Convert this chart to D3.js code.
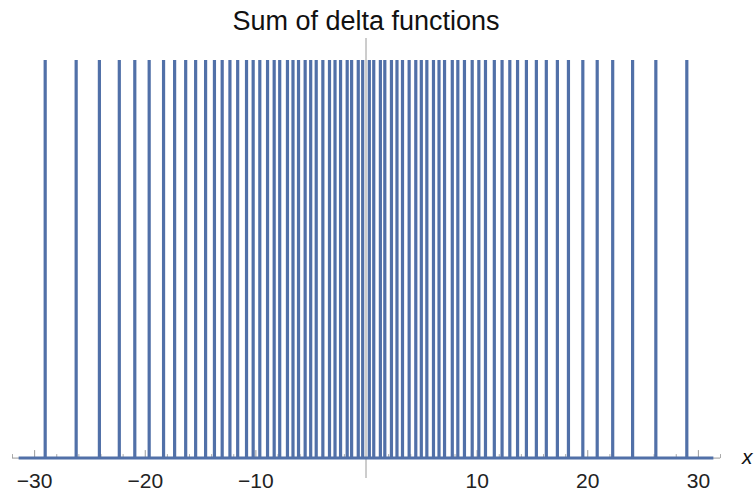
<!DOCTYPE html>
<html>
<head>
<meta charset="utf-8">
<script src="https://cdn.jsdelivr.net/npm/d3@7"></script>
<style>
  body { margin: 0; background: #fff; }
  text { font-family: "Liberation Sans", Arial, sans-serif; }
</style>
</head>
<body>
<svg id="chart"></svg>
<script>
// spike positions (left half, mirrored on the right)
const leftSpikes = [-29.0, -26.2, -24.1, -22.3, -20.9, -19.6, -18.3, -17.3, -16.3,
  -15.4, -14.5, -13.7, -13.0, -12.3, -11.6, -10.8, -10.2, -9.6, -8.9, -8.3,
  -7.8, -7.1, -6.6, -6.1, -5.5, -5.0, -4.5, -3.9, -3.3, -2.8, -2.3, -1.7,
  -1.3, -0.7, -0.3];
const rightSpikes = [0.3, 0.7, 1.3, 1.7, 2.3, 2.8, 3.3, 3.9, 4.5, 5.0, 5.5,
  6.1, 6.6, 7.1, 7.8, 8.3, 8.9, 9.6, 10.2, 10.8, 11.6, 12.3, 13.0, 13.7,
  14.5, 15.4, 16.3, 17.3, 18.3, 19.6, 20.9, 22.3, 24.1, 26.2, 29.0];
const spikeHeight = 1;
const plotRange = [-31.4, 31.4];
const majorTicks = [-30, -20, -10, 10, 20, 30];
const minorTicks = [-32, -28, -26, -24, -22, -18, -16, -14, -12, -8, -6, -4, -2,
  2, 4, 6, 8, 12, 14, 16, 18, 22, 24, 26, 28, 32];

const width = 756, height = 492;
const svg = d3.select("#chart")
  .attr("width", width)
  .attr("height", height);

const x = d3.scaleLinear().domain([-32, 32]).range([12, 720]);
const y = d3.scaleLinear().domain([-0.05, 1.055]).range([478, 38]);

const spikes = leftSpikes.concat(rightSpikes);
const blue = "#5170a8";

// vertical axis
svg.append("line")
  .attr("x1", x(0)).attr("x2", x(0))
  .attr("y1", y(-0.05)).attr("y2", y(1.055))
  .attr("stroke", "#9a9a9a").attr("stroke-width", 1);

// minor ticks
svg.append("g")
  .attr("transform", `translate(0,${y(0)})`)
  .call(d3.axisBottom(x).tickValues(minorTicks).tickSize(-4).tickFormat(""))
  .call(g => g.select(".domain").remove())
  .call(g => g.selectAll(".tick line").attr("stroke", "#aaa"));

// major ticks + labels
svg.append("g")
  .attr("transform", `translate(0,${y(0)})`)
  .call(d3.axisBottom(x).tickValues(majorTicks).tickSize(-8).tickPadding(15)
    .tickFormat(d => d < 0 ? "\u2212" + Math.abs(d) : d))
  .call(g => g.select(".domain").attr("stroke", "#9a9a9a").attr("d", `M${x(-32)},0H${x(32)}`))
  .call(g => g.selectAll(".tick line").attr("stroke", "#9a9a9a"))
  .call(g => g.selectAll(".tick text")
    .attr("font-size", 21).attr("fill", "#222")
    .attr("font-family", "Liberation Sans, Arial, sans-serif"));

// baseline of the plotted function
svg.append("line")
  .attr("x1", x(plotRange[0])).attr("x2", x(plotRange[1]))
  .attr("y1", y(0)).attr("y2", y(0))
  .attr("stroke", blue).attr("stroke-width", 3);

// spikes
svg.append("g")
  .selectAll("line")
  .data(spikes)
  .join("line")
  .attr("x1", d => x(d)).attr("x2", d => x(d))
  .attr("y1", y(0)).attr("y2", y(spikeHeight))
  .attr("stroke", blue)
  .attr("stroke-width", 3.2);

// title
svg.append("text")
  .attr("x", x(0))
  .attr("y", 30)
  .attr("text-anchor", "middle")
  .attr("font-size", 27)
  .attr("fill", "#111")
  .text("Sum of delta functions");

// axis label
svg.append("text")
  .attr("x", 742)
  .attr("y", 464)
  .attr("font-size", 21)
  .attr("font-style", "italic")
  .attr("fill", "#111")
  .text("x");
</script>
</body>
</html>
